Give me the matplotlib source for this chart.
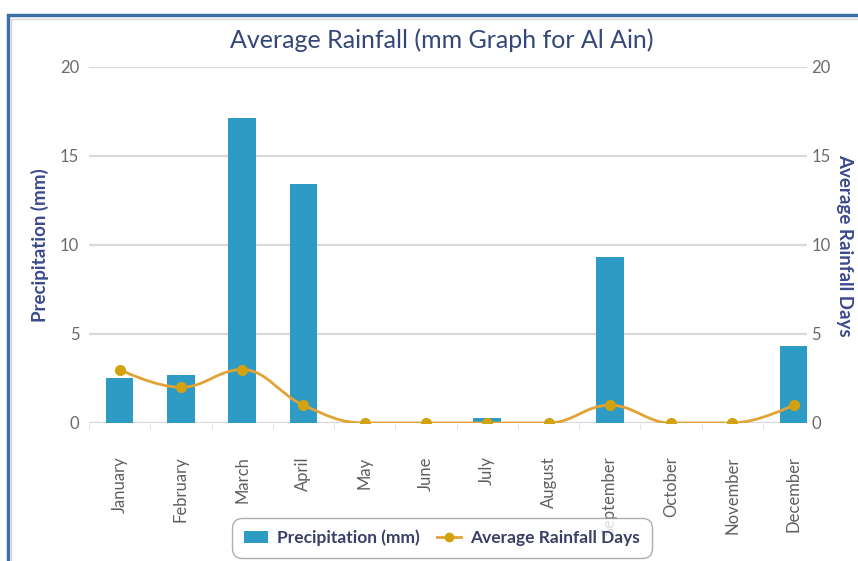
import numpy as np
import matplotlib
matplotlib.use("Agg")
import matplotlib.pyplot as plt
from matplotlib.path import Path
from matplotlib.patches import PathPatch, Rectangle, Patch
from matplotlib.lines import Line2D

plt.rcParams['font.family'] = ['Lato', 'DejaVu Sans']

months = ["January", "February", "March", "April", "May", "June",
          "July", "August", "September", "October", "November", "December"]
precipitation = [2.5, 2.7, 17.1, 13.4, 0.0, 0.0, 0.3, 0.0, 9.3, 0.0, 0.0, 4.3]
rain_days = [3, 2, 3, 1, 0, 0, 0, 0, 1, 0, 0, 1]
y_ticks = [0, 5, 10, 15, 20]

BAR_COLOR = "#2e9bc4"
LINE_COLOR = "#e2a235"
MARKER_COLOR = "#d3a20f"
TITLE_COLOR = "#34477a"
LABEL_COLOR = "#3b4a8c"
TICK_COLOR = "#6b6b6b"


# Smooth spline path through the points (Highcharts-style bezier control points)
def spline_path(xs, ys, smoothing=1.5):
    n = len(xs)
    denom = smoothing + 1
    left = [(xs[i], ys[i]) for i in range(n)]
    right = [(xs[i], ys[i]) for i in range(n)]
    for i in range(1, n - 1):
        lx, ly = xs[i - 1], ys[i - 1]
        nx, ny = xs[i + 1], ys[i + 1]
        px, py = xs[i], ys[i]
        lcx = (smoothing * px + lx) / denom
        lcy = (smoothing * py + ly) / denom
        rcx = (smoothing * px + nx) / denom
        rcy = (smoothing * py + ny) / denom
        if rcx != lcx:
            corr = ((rcy - lcy) * (rcx - px)) / (rcx - lcx) + py - rcy
            lcy += corr
            rcy += corr
        if lcy > ly and lcy > py:
            lcy = max(ly, py)
            rcy = 2 * py - lcy
        elif lcy < ly and lcy < py:
            lcy = min(ly, py)
            rcy = 2 * py - lcy
        if rcy > ny and rcy > py:
            rcy = max(ny, py)
            lcy = 2 * py - rcy
        elif rcy < ny and rcy < py:
            rcy = min(ny, py)
            lcy = 2 * py - rcy
        left[i] = (lcx, lcy)
        right[i] = (rcx, rcy)
    verts = [(xs[0], ys[0])]
    codes = [Path.MOVETO]
    for i in range(1, n):
        verts += [right[i - 1], left[i], (xs[i], ys[i])]
        codes += [Path.CURVE4] * 3
    return Path(verts, codes)


fig = plt.figure(figsize=(8.58, 5.61), dpi=100)
ax = fig.add_axes([0.1037, 0.246, 0.837, 0.635])
ax2 = ax.twinx()

x = np.arange(len(months))
ax.bar(x, precipitation, width=0.45, color=BAR_COLOR, zorder=2)

ax.set_xlim(-0.5, 11.22)
ax.set_ylim(0, 20)
ax2.set_ylim(0, 20)
ax.set_yticks(y_ticks)
ax2.set_yticks(y_ticks)
ax.yaxis.grid(True, color="#d9d9d9", linewidth=1.6, zorder=0)
ax.set_axisbelow(True)

for a in (ax, ax2):
    for s in a.spines.values():
        s.set_visible(False)
    a.tick_params(axis="y", length=0, labelsize=12, labelcolor=TICK_COLOR)
ax.tick_params(axis="y", pad=7)
ax2.tick_params(axis="y", pad=3)

ax.set_xticks(x)
ax.set_xticklabels(months, rotation=90, fontsize=12, color="#5f5f5f")
ax.set_xticks(np.arange(-0.5, 11.5, 1), minor=True)
ax.tick_params(axis="x", which="major", length=0, pad=24)
ax.tick_params(axis="x", which="minor", length=4, color="#dddddd")

# axis titles placed in figure coords to keep them clear of the tick labels
fig.text(0.047, 0.563, "Precipitation (mm)", rotation=90, ha="center", va="center",
         fontsize=13.5, fontweight="bold", color=LABEL_COLOR)
fig.text(0.984, 0.563, "Average Rainfall Days", rotation=270, ha="center", va="center",
         fontsize=13.5, fontweight="bold", color=LABEL_COLOR)

path = spline_path(list(x.astype(float)), [float(v) for v in rain_days])
ax2.add_patch(PathPatch(path, facecolor="none", edgecolor=LINE_COLOR,
                        linewidth=2, zorder=3))
ax2.plot(x, rain_days, linestyle="none", marker="o", markersize=7,
         color=MARKER_COLOR, zorder=4)

fig.text(0.515, 0.928, "Average Rainfall (mm Graph for Al Ain)",
         ha="center", va="center", fontsize=18, color=TITLE_COLOR)

handles = [Patch(facecolor=BAR_COLOR, edgecolor="none"),
           Line2D([0], [0], color=LINE_COLOR, linewidth=2, marker="o",
                  markersize=6, markerfacecolor=MARKER_COLOR,
                  markeredgecolor=MARKER_COLOR)]
leg = fig.legend(handles, ["Precipitation (mm)", "Average Rainfall Days"],
                 loc="center", bbox_to_anchor=(0.515, 0.041), ncol=2,
                 fontsize=12.5, frameon=True, handlelength=1.4,
                 columnspacing=1.0, handletextpad=0.5, borderpad=0.5)
leg.get_frame().set_edgecolor("#9a9a9a")
leg.get_frame().set_linewidth(1.0)
leg.get_frame().set_boxstyle("round,pad=0.2,rounding_size=0.6")
leg.set_zorder(10)
for t in leg.get_texts():
    t.set_color("#3a3f66")
    t.set_fontweight("bold")

# outer blue frame
fig.patches.append(Rectangle((0.009, -0.05), 1.05, 1.023, transform=fig.transFigure,
                             facecolor="none", edgecolor="#3e6fa8", linewidth=2.5))
fig.patches.append(Rectangle((0.013, -0.05), 1.05, 1.016, transform=fig.transFigure,
                             facecolor="none", edgecolor="#d8d8d8", linewidth=1.0))

fig.savefig("out.png", dpi=100)
